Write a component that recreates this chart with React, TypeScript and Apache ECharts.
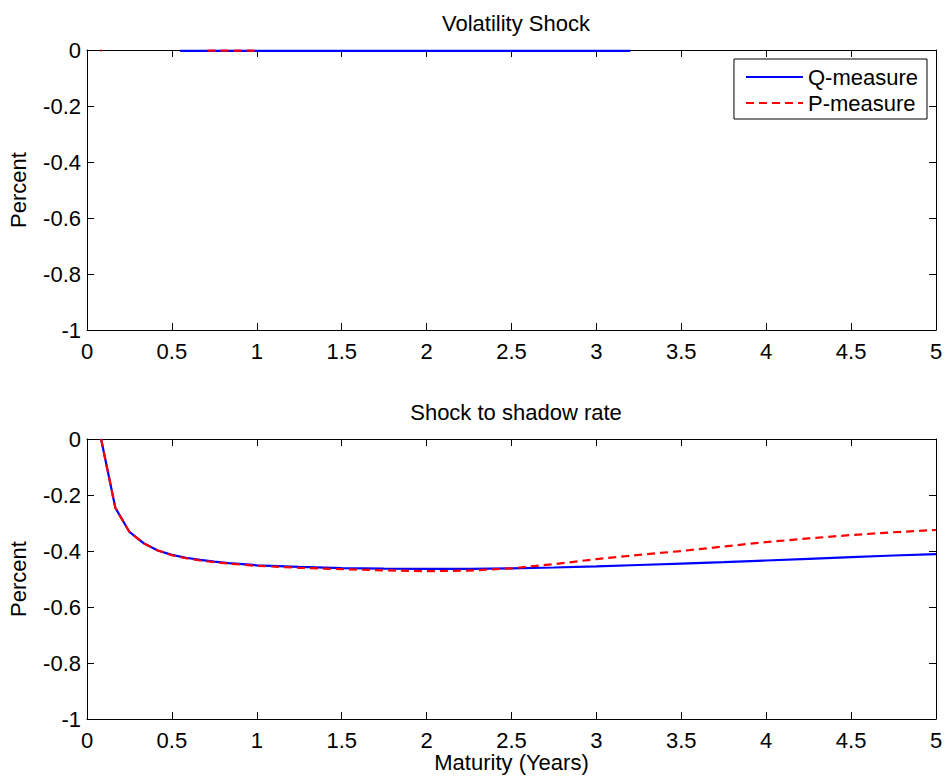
import React, { useEffect, useRef } from "react";
import * as echarts from "echarts";

const maturities = [0.083, 0.167, 0.25, 0.333, 0.417, 0.5, 0.583, 0.667, 0.75, 0.833, 0.917, 1.0, 1.25, 1.5, 1.75, 2.0, 2.25, 2.5, 2.75, 3.0, 3.25, 3.5, 3.75, 4.0, 4.25, 4.5, 4.75, 5.0];
const shadowQ = [0.0, -0.246, -0.332, -0.372, -0.398, -0.414, -0.424, -0.432, -0.438, -0.443, -0.447, -0.451, -0.457, -0.461, -0.463, -0.464, -0.464, -0.462, -0.459, -0.455, -0.450, -0.445, -0.440, -0.434, -0.428, -0.422, -0.416, -0.411];
const shadowP = [0.0, -0.246, -0.332, -0.372, -0.398, -0.415, -0.426, -0.434, -0.440, -0.445, -0.449, -0.453, -0.460, -0.465, -0.469, -0.472, -0.470, -0.462, -0.447, -0.429, -0.414, -0.400, -0.384, -0.368, -0.355, -0.343, -0.333, -0.325];

const volX = [0.08, 0.086, 0.547, 0.7, 0.71, 1.0, 1.02, 2.0, 3.2];
const volQ: (number | string)[] = ["-", "-", -0.003, -0.003, -0.003, -0.003, -0.003, -0.003, -0.003];
const volP: (number | string)[] = [-0.002, -0.002, "-", "-", -0.002, -0.002, "-", "-", "-"];

const FONT = "Liberation Sans, Arial, Helvetica, sans-serif";
const FS = 22;

export default function App() {
  const ref = useRef<HTMLDivElement>(null);
  useEffect(() => {
    if (!ref.current) return;
    const chart = echarts.init(ref.current, null, { renderer: "svg" });
    const axisLine = () => ({ show: true, onZero: false, lineStyle: { color: "#000", width: 1 } });
    const tickInside = () => ({ show: true, inside: true, length: 7, lineStyle: { color: "#000", width: 1 } });
    const labelStyle = { color: "#000", fontSize: FS, fontFamily: FONT };
    const nameStyle = { color: "#000", fontSize: FS, fontFamily: FONT };
    const mkX = (gi: number, withName: boolean) => ({
      type: "value",
      gridIndex: gi,
      position: "bottom",
      min: 0,
      max: 5,
      interval: 0.5,
      axisLine: axisLine(),
      axisTick: tickInside(),
      splitLine: { show: false },
      axisLabel: { ...labelStyle, margin: 10, formatter: (v: number) => String(v) },
      name: withName ? "Maturity (Years)" : "",
      nameLocation: "middle",
      nameGap: 32,
      nameTextStyle: nameStyle,
    });
    const mkXTop = (gi: number) => ({
      type: "value",
      gridIndex: gi,
      position: "top",
      min: 0,
      max: 5,
      interval: 0.5,
      axisLine: axisLine(),
      axisTick: tickInside(),
      splitLine: { show: false },
      axisLabel: { show: false },
    });
    const mkY = (gi: number) => ({
      type: "value",
      gridIndex: gi,
      position: "left",
      min: -1,
      max: 0,
      interval: 0.2,
      axisLine: axisLine(),
      axisTick: tickInside(),
      splitLine: { show: false },
      axisLabel: { ...labelStyle, margin: 6, formatter: (v: number) => String(Math.round(v * 10) / 10) },
      name: "Percent",
      nameLocation: "middle",
      nameGap: 58,
      nameRotate: 90,
      nameTextStyle: nameStyle,
    });
    const mkYRight = (gi: number) => ({
      type: "value",
      gridIndex: gi,
      position: "right",
      min: -1,
      max: 0,
      interval: 0.2,
      axisLine: axisLine(),
      axisTick: tickInside(),
      splitLine: { show: false },
      axisLabel: { show: false },
    });
    const blue = "#0000ff";
    const red = "#ff0000";
    const lineSeries = (name: string, gi: number, color: string, dashed: boolean, data: any[]) => ({
      name,
      type: "line",
      xAxisIndex: gi,
      yAxisIndex: gi,
      showSymbol: false,
      symbol: "none",
      connectNulls: false,
      lineStyle: { color, width: 2.2, type: dashed ? [8, 5] : "solid" },
      itemStyle: { color },
      data,
    });
    chart.setOption({
      animation: false,
      backgroundColor: "#fff",
      title: [
        { text: "Volatility Shock", left: 511, top: 7, textAlign: "center", textStyle: { color: "#000", fontSize: FS, fontWeight: "normal", fontFamily: FONT } },
        { text: "Shock to shadow rate", left: 511, top: 396, textAlign: "center", textStyle: { color: "#000", fontSize: FS, fontWeight: "normal", fontFamily: FONT } },
      ],
      legend: {
        right: 18,
        top: 59,
        orient: "vertical",
        backgroundColor: "#fff",
        borderColor: "#000",
        borderWidth: 1,
        borderRadius: 0,
        padding: [7, 9, 5, 11],
        itemGap: 4,
        itemWidth: 57,
        itemHeight: 10,
        itemStyle: { opacity: 0 },
        textStyle: { color: "#000", fontSize: FS, fontFamily: FONT },
        data: ["Q-measure", "P-measure"],
      },
      grid: [
        { left: 87, top: 50, width: 849, height: 280, containLabel: false, outerBoundsMode: "none" },
        { left: 87, top: 439, width: 849, height: 280, containLabel: false, outerBoundsMode: "none" },
      ],
      xAxis: [mkX(0, false), mkX(1, true), mkXTop(0), mkXTop(1)],
      yAxis: [mkY(0), mkY(1), mkYRight(0), mkYRight(1)],
      series: [
        lineSeries("Q-measure", 0, blue, false, volX.map((x, i) => [x, volQ[i]])),
        lineSeries("P-measure", 0, red, true, volX.map((x, i) => [x, volP[i]])),
        lineSeries("Q-measure", 1, blue, false, maturities.map((x, i) => [x, shadowQ[i]])),
        lineSeries("P-measure", 1, red, true, maturities.map((x, i) => [x, shadowP[i]])),
      ],
    });
    return () => chart.dispose();
  }, []);
  return <div ref={ref} style={{ width: 945, height: 778, position: "absolute", left: 0, top: 0 }} />;
}
